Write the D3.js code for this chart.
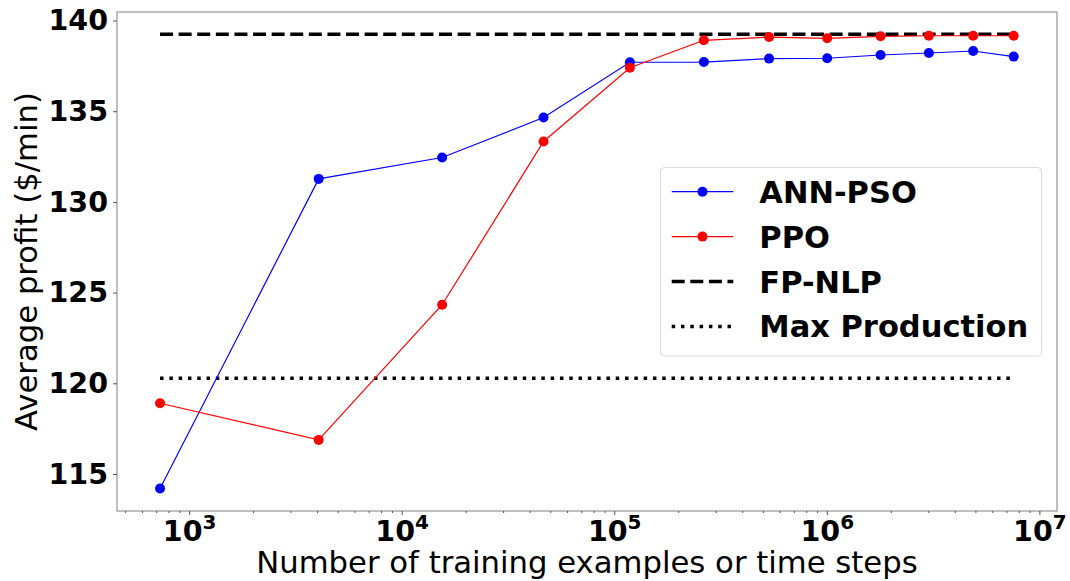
<!DOCTYPE html>
<html>
<head>
<meta charset="utf-8">
<script src="https://cdn.jsdelivr.net/npm/d3@7"></script>
<style>
  html, body { margin: 0; padding: 0; background: #fff; }
  svg { display: block; }
  text { font-family: "DejaVu Sans", sans-serif; fill: #000; }
</style>
</head>
<body>
<svg id="chart" width="1070" height="581"></svg>
<script>
// ---------------- data ----------------
const steps = [730, 4070, 15500, 46500, 118500, 264000, 535000, 1004000, 1790000, 3020000, 4880000, 7570000];
const annPso = [114.20, 131.27, 132.45, 134.65, 137.70, 137.71, 137.90, 137.92, 138.10, 138.21, 138.32, 138.01];
const ppo    = [118.90, 116.88, 124.33, 133.33, 137.40, 138.91, 139.09, 139.02, 139.13, 139.16, 139.16, 139.16];
const fpNlp = 139.24;
const maxProduction = 120.28;
const yTicks = [115, 120, 125, 130, 135, 140];
const xMajorExps = [3, 4, 5, 6, 7];
const legendLabels = ["ANN-PSO", "PPO", "FP-NLP", "Max Production"];
const xLabel = "Number of training examples or time steps";
const yLabel = "Average profit ($/min)";

// ---------------- layout ----------------
const svg = d3.select("#chart");
const plot = { left: 117, top: 12, right: 1057, bottom: 511 };

const x = d3.scaleLog().domain([458, 1.21e7]).range([plot.left, plot.right]);
const y = d3.scaleLinear().domain([112.96, 140.47]).range([plot.bottom, plot.top]);

// frame
svg.append("rect")
  .attr("x", plot.left).attr("y", plot.top)
  .attr("width", plot.right - plot.left).attr("height", plot.bottom - plot.top)
  .attr("fill", "#fff").attr("stroke", "#808080").attr("stroke-width", 1);

// x axis major
const xMajor = xMajorExps.map(e => Math.pow(10, e));
const gx = svg.append("g").attr("transform", `translate(0,${plot.bottom})`)
  .call(d3.axisBottom(x).tickValues(xMajor).tickSize(4).tickFormat(""));
gx.select(".domain").remove();
gx.selectAll(".tick line").attr("stroke", "#555");
gx.selectAll(".tick").each(function(d, i) {
  const t = d3.select(this).append("text")
    .attr("y", 30).attr("text-anchor", "middle")
    .style("font-size", "28.5px").style("font-weight", "bold");
  t.append("tspan").text("10");
  t.append("tspan").attr("dy", -12).style("font-size", "20px").text(String(xMajorExps[i]));
});
// x minor ticks
const xMinor = [];
for (let e = 2; e <= 7; e++) for (let m = 2; m <= 9; m++) {
  const v = m * Math.pow(10, e);
  if (v >= x.domain()[0] && v <= x.domain()[1]) xMinor.push(v);
}
const gxm = svg.append("g").attr("transform", `translate(0,${plot.bottom})`)
  .call(d3.axisBottom(x).tickValues(xMinor).tickSize(2).tickFormat(""));
gxm.select(".domain").remove();
gxm.selectAll(".tick line").attr("stroke", "#555");

// y axis
const gy = svg.append("g").attr("transform", `translate(${plot.left},0)`)
  .call(d3.axisLeft(y).tickValues(yTicks).tickSize(4).tickPadding(5));
gy.select(".domain").remove();
gy.selectAll(".tick line").attr("stroke", "#555");
gy.selectAll(".tick text").style("font-size", "28.5px").style("font-weight", "bold")
  .style("font-family", "'DejaVu Sans', sans-serif").attr("fill", "#000");

// axis labels
svg.append("text").attr("x", 587).attr("y", 573)
  .attr("text-anchor", "middle").style("font-size", "30.7px").text(xLabel);
svg.append("text").attr("transform", `translate(37,${(plot.top + plot.bottom) / 2}) rotate(-90)`)
  .attr("text-anchor", "middle").style("font-size", "30.7px").text(yLabel);

// reference lines
const xs = d3.extent(steps);
svg.append("line")
  .attr("x1", x(xs[0])).attr("x2", x(xs[1])).attr("y1", y(fpNlp)).attr("y2", y(fpNlp))
  .attr("stroke", "#000").attr("stroke-width", 3.5).attr("stroke-dasharray", "13 5.6");
svg.append("line")
  .attr("x1", x(xs[0])).attr("x2", x(xs[1])).attr("y1", y(maxProduction)).attr("y2", y(maxProduction))
  .attr("stroke", "#000").attr("stroke-width", 3.5).attr("stroke-dasharray", "3.5 5.8");

// series
const series = [
  { name: legendLabels[0], values: annPso, color: "#0000ff" },
  { name: legendLabels[1], values: ppo, color: "#ff0000" }
];
const line = d3.line().x(d => x(d[0])).y(d => y(d[1]));
series.forEach(s => {
  const pts = steps.map((st, i) => [st, s.values[i]]);
  svg.append("path").datum(pts).attr("d", line)
    .attr("fill", "none").attr("stroke", s.color).attr("stroke-width", 1.2);
  svg.append("g").selectAll("circle").data(pts).join("circle")
    .attr("cx", d => x(d[0])).attr("cy", d => y(d[1])).attr("r", 5)
    .attr("fill", s.color);
});

// legend
const lg = svg.append("g");
lg.append("rect").attr("x", 660.5).attr("y", 167.5).attr("width", 381).attr("height", 188.5)
  .attr("rx", 4).attr("fill", "#fff").attr("fill-opacity", 0.8)
  .attr("stroke", "#d9d9d9").attr("stroke-width", 1);
const rowY = [191.7, 236.6, 281.5, 326.4];
const hx1 = 671.7, hx2 = 733.3;
legendLabels.forEach((lab, i) => {
  const yy = rowY[i];
  const l = lg.append("line").attr("x1", hx1).attr("x2", hx2).attr("y1", yy).attr("y2", yy);
  if (i < 2) {
    l.attr("stroke", series[i].color).attr("stroke-width", 1.2);
    lg.append("circle").attr("cx", (hx1 + hx2) / 2).attr("cy", yy).attr("r", 5).attr("fill", series[i].color);
  } else if (i === 2) {
    l.attr("stroke", "#000").attr("stroke-width", 3.5).attr("stroke-dasharray", "13 5.6");
  } else {
    l.attr("stroke", "#000").attr("stroke-width", 3.5).attr("stroke-dasharray", "3.5 5.8");
  }
  lg.append("text").attr("x", 759.3).attr("y", yy + 11)
    .style("font-size", "30.5px").style("font-weight", "bold").text(lab);
});
</script>
</body>
</html>
